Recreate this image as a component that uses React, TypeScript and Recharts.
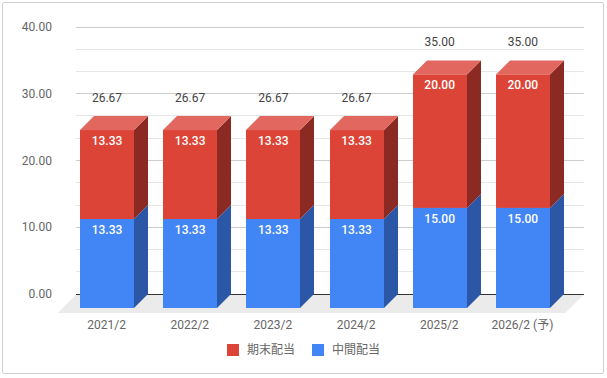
import { Bar, BarChart, CartesianGrid, LabelList, Legend, XAxis, YAxis } from 'recharts';

// dividend per share, FY ending Feb
const categories = ['2021/2', '2022/2', '2023/2', '2024/2', '2025/2', '2026/2 (予)'];
const interim = [13.33, 13.33, 13.33, 13.33, 15.0, 15.0]; // 中間配当
const yearEnd = [13.33, 13.33, 13.33, 13.33, 20.0, 20.0]; // 期末配当
const totals = [26.67, 26.67, 26.67, 26.67, 35.0, 35.0];
const yTicks = [0, 10, 20, 30, 40];
const gridValues = [0, 3.33, 6.67, 10, 13.33, 16.67, 20, 23.33, 26.67, 30, 33.33, 36.67, 40];

const W = 607;
const H = 378;
const X_AXIS_H = 30;
const MARGIN = { top: 41, right: 43, bottom: 40, left: 0 };
const Y_MAX = 40;
const DEPTH = 14;
const FONT = 'Roboto, "Noto Sans CJK JP", sans-serif';

const RED = { front: '#DB4437', top: '#E2675E', side: '#8B2A23' };
const BLUE = { front: '#4285F4', top: '#6FA2F7', side: '#2B57A6' };

const data = categories.map((name, i) => ({
  name,
  interim: interim[i],
  yearEnd: yearEnd[i],
  total: totals[i],
}));

// 3d box: front face + right side + top
const box = (c: typeof RED) => (props: any) => {
  const { y, width, height } = props;
  if (!height) return null;
  const x = Math.round(props.x);
  const d = DEPTH;
  return (
    <g>
      <rect x={x} y={y} width={width} height={height} fill={c.front} />
      <polygon
        points={`${x + width},${y} ${x + width + d},${y - d} ${x + width + d},${y + height - d} ${x + width},${y + height}`}
        fill={c.side}
      />
      <polygon points={`${x},${y} ${x + d},${y - d} ${x + width + d},${y - d} ${x + width},${y}`} fill={c.top} />
    </g>
  );
};

// back plane (floor + grid), hung off the baseline grid line and shifted by the box depth
const gridLine = (p: any) => {
  const { x1, x2, y1 } = p;
  const plotBottom = H - MARGIN.bottom - X_AXIS_H;
  const plotTop = MARGIN.top;
  const v = (Y_MAX * (plotBottom - y1)) / (plotBottom - plotTop);
  if (Math.abs(v) > 0.05) return <g key={p.key} />;
  const bx1 = x1 + 11;
  const bx2 = x2 + 20;
  const toY = (val: number) => Math.floor(y1 - ((y1 - plotTop) * val) / Y_MAX - DEPTH) + 0.5;
  const by0 = toY(0);
  return (
    <g key={p.key}>
      <polygon points={`${bx1},${by0} ${bx2},${by0} ${x2 + 1},${y1 + 5} ${x1 - 7},${y1 + 5}`} fill="#ebebeb" />
      {gridValues
        .filter((g) => g > 0)
        .map((g) => {
          const major = Math.abs(g / 10 - Math.round(g / 10)) < 0.01;
          const gy = toY(g);
          return <line key={g} x1={bx1} x2={bx2} y1={gy} y2={gy} stroke={major ? '#cccccc' : '#e6e6e6'} strokeWidth={1} />;
        })}
      <line x1={bx1} x2={bx2} y1={by0} y2={by0} stroke="#333" strokeWidth={1} />
    </g>
  );
};

const YTick = ({ x, y, payload }: any) => (
  <text x={x - 13} y={y - DEPTH} textAnchor="end" dominantBaseline="central" fontSize={12} fill="#666" fontFamily={FONT}>
    {Number(payload.value).toFixed(2)}
  </text>
);

const XTick = ({ x, y, payload }: any) => (
  <text x={x} y={y + 17} textAnchor="middle" dominantBaseline="central" fontSize={12} fill="#666" fontFamily={FONT}>
    {payload.value}
  </text>
);

const InnerLabel = (props: any) => {
  const { x, y, width, value } = props;
  return (
    <text
      x={x + width / 2}
      y={y + 11}
      textAnchor="middle"
      dominantBaseline="central"
      fontSize={12}
      fontWeight={500}
      fill="#fff"
      fontFamily={FONT}
    >
      {Number(value).toFixed(2)}
    </text>
  );
};

const TotalLabel = (props: any) => {
  const { x, y, width, value } = props;
  return (
    <text x={x + width / 2} y={y - 32} textAnchor="middle" dominantBaseline="central" fontSize={12} fill="#444" fontFamily={FONT}>
      {Number(value).toFixed(2)}
    </text>
  );
};

const LegendContent = (props: any) => {
  const items = [...(props.payload || [])].reverse();
  return (
    <div style={{ display: 'flex', justifyContent: 'center', gap: 17, fontFamily: FONT, fontSize: 12, color: '#666' }}>
      {items.map((it: any) => (
        <div key={it.value} style={{ display: 'flex', alignItems: 'center', gap: 8, lineHeight: '12px' }}>
          <span style={{ width: 12, height: 12, background: it.color, display: 'inline-block' }} />
          <span>{it.value}</span>
        </div>
      ))}
    </div>
  );
};

export default function App() {
  return (
    <div style={{ position: 'absolute', left: 0, top: 0, width: W, height: H, background: '#fff' }}>
      <BarChart width={W} height={H} data={data} margin={MARGIN}>
        <CartesianGrid vertical={false} horizontalValues={[0]} horizontal={gridLine} />
        <XAxis
          dataKey="name"
          height={X_AXIS_H}
          axisLine={false}
          tickLine={false}
          tickSize={0}
          tickMargin={0}
          interval={0}
          tick={<XTick />}
        />
        <YAxis
          domain={[0, Y_MAX]}
          ticks={yTicks}
          interval={0}
          axisLine={false}
          tickLine={false}
          tickSize={0}
          tickMargin={0}
          width={65}
          tick={<YTick />}
        />
        <Legend
          layout="vertical"
          align="center"
          verticalAlign="middle"
          content={<LegendContent />}
          wrapperStyle={{ top: 344, left: 0, width: W }}
        />
        <Bar dataKey="interim" name="中間配当" stackId="a" fill={BLUE.front} barSize={54} shape={box(BLUE)} isAnimationActive={false}>
          <LabelList dataKey="interim" content={<InnerLabel />} />
        </Bar>
        <Bar dataKey="yearEnd" name="期末配当" stackId="a" fill={RED.front} barSize={54} shape={box(RED)} isAnimationActive={false}>
          <LabelList dataKey="yearEnd" content={<InnerLabel />} />
          <LabelList dataKey="total" content={<TotalLabel />} />
        </Bar>
      </BarChart>
      <div
        style={{
          position: 'absolute',
          left: 2,
          top: 2,
          width: 600,
          height: 370,
          border: '1px solid #d0d0d0',
          borderRadius: 2,
          pointerEvents: 'none',
        }}
      />
    </div>
  );
}
